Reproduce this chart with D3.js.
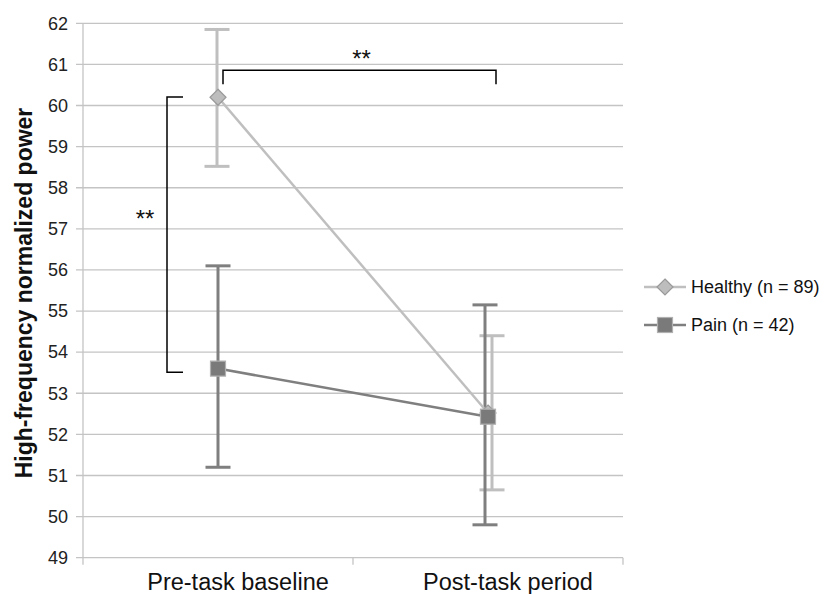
<!DOCTYPE html>
<html>
<head>
<meta charset="utf-8">
<script src="https://cdn.jsdelivr.net/npm/d3@7"></script>
<style>
  body { margin: 0; background: #fff; }
  text { font-family: "Liberation Sans", Arial, sans-serif; }
</style>
</head>
<body>
<svg id="chart"></svg>
<script>
// data
var categories = ["Pre-task baseline", "Post-task period"];
var healthyMean = [60.2, 52.52];
var healthyLow = [58.52, 50.65];
var healthyHigh = [61.85, 54.4];
var painMean = [53.6, 52.43];
var painLow = [51.2, 49.8];
var painHigh = [56.1, 55.15];
var yTicks = [49, 50, 51, 52, 53, 54, 55, 56, 57, 58, 59, 60, 61, 62];
var legendLabels = ["Healthy (n = 89)", "Pain (n = 42)"];

var W = 824, H = 594,
    plotL = 83, plotR = 623, plotT = 23.3, plotB = 557.7;

var svg = d3.select("#chart").attr("width", W).attr("height", H);

var x = d3.scaleBand().domain(categories).range([plotL, plotR]);
var y = d3.scaleLinear().domain([49, 62]).range([plotB, plotT]);
function cx(c) { return x(c) + x.bandwidth() / 2; }

// gridlines
svg.selectAll(".grid").data(yTicks).enter()
    .append("line")
    .attr("class", "grid")
    .attr("x1", plotL - 7).attr("x2", plotR)
    .attr("y1", function(d) { return y(d); })
    .attr("y2", function(d) { return y(d); })
    .attr("stroke", "#c4c4c4")
    .attr("stroke-width", 1.3);

// y axis line
svg.append("line")
    .attr("x1", plotL).attr("x2", plotL)
    .attr("y1", plotT).attr("y2", plotB)
    .attr("stroke", "#c4c4c4").attr("stroke-width", 1.3);

// x tick marks (category boundaries)
var bounds = [plotL, plotL + x.bandwidth(), plotR];
svg.selectAll(".xtick").data(bounds).enter()
    .append("line")
    .attr("x1", function(d) { return d; })
    .attr("x2", function(d) { return d; })
    .attr("y1", plotB).attr("y2", plotB + 7)
    .attr("stroke", "#c4c4c4").attr("stroke-width", 1.3);

// y tick labels
svg.selectAll(".ylab").data(yTicks).enter()
    .append("text")
    .attr("x", 68)
    .attr("y", function(d) { return y(d); })
    .attr("dy", "0.35em")
    .attr("text-anchor", "end")
    .attr("font-size", 18)
    .attr("fill", "#222")
    .text(function(d) { return d; });

// x labels
svg.selectAll(".xlab").data(categories).enter()
    .append("text")
    .attr("x", function(d) { return cx(d) + 20; })
    .attr("y", 590)
    .attr("text-anchor", "middle")
    .attr("font-size", 23.5)
    .attr("fill", "#111")
    .text(function(d) { return d; });

// y title
svg.append("text")
    .attr("transform", "translate(32,293) rotate(-90)")
    .attr("text-anchor", "middle")
    .attr("font-size", 23)
    .attr("font-weight", "bold")
    .attr("fill", "#111")
    .text("High-frequency normalized power");

var series = [
    { name: legendLabels[0], mean: healthyMean, low: healthyLow, high: healthyHigh,
      color: "#bfbfbf", fill: "#bdbdbd", stroke: "#9a9a9a", shape: "diamond", errDx: [-1, 4] },
    { name: legendLabels[1], mean: painMean, low: painLow, high: painHigh,
      color: "#7f7f7f", fill: "#7a7a7a", stroke: "#b0b0b0", shape: "square", errDx: [0, -3] }
];

function drawMarker(g, s, px, py) {
    if (s.shape === "diamond") {
        g.append("path")
            .attr("d", "M" + px + "," + (py - 8) + "L" + (px + 8) + "," + py +
                       "L" + px + "," + (py + 8) + "L" + (px - 8) + "," + py + "Z")
            .attr("fill", s.fill).attr("stroke", s.stroke).attr("stroke-width", 1.2);
    } else {
        g.append("rect")
            .attr("x", px - 7.5).attr("y", py - 7.5)
            .attr("width", 15).attr("height", 15)
            .attr("fill", s.fill).attr("stroke", s.stroke).attr("stroke-width", 1.2);
    }
}

// error bars first, then lines and markers
series.forEach(function(s) {
    var g = svg.append("g");
    categories.forEach(function(c, i) {
        var px = cx(c) + s.errDx[i];
        g.append("line")
            .attr("x1", px).attr("x2", px)
            .attr("y1", y(s.high[i])).attr("y2", y(s.low[i]))
            .attr("stroke", s.color).attr("stroke-width", 3);
        [s.high[i], s.low[i]].forEach(function(v) {
            g.append("line")
                .attr("x1", px - 12.5).attr("x2", px + 12.5)
                .attr("y1", y(v)).attr("y2", y(v))
                .attr("stroke", s.color).attr("stroke-width", 3);
        });
    });
});

series.forEach(function(s) {
    var g = svg.append("g");
    var line = d3.line()
        .x(function(d, i) { return cx(categories[i]); })
        .y(function(d) { return y(d); });
    g.append("path")
        .attr("d", line(s.mean))
        .attr("fill", "none")
        .attr("stroke", s.color)
        .attr("stroke-width", 2.5);
    s.mean.forEach(function(v, i) {
        drawMarker(g, s, cx(categories[i]), y(v));
    });
});

// significance brackets
var br = svg.append("g").attr("fill", "none").attr("stroke", "#000").attr("stroke-width", 1.5);
var pre = categories[0], post = categories[1];
// between groups at baseline
br.append("path")
    .attr("d", "M" + (cx(pre) - 35) + "," + y(60.21) +
               "H" + (cx(pre) - 51) +
               "V" + y(53.51) +
               "H" + (cx(pre) - 35));
// healthy: baseline vs post
br.append("path")
    .attr("d", "M" + (cx(pre) + 5) + "," + y(60.52) +
               "V" + y(60.86) + "H" + (cx(post) + 8) + "V" + y(60.52));

svg.append("text")
    .attr("x", 145).attr("y", 227)
    .attr("text-anchor", "middle")
    .attr("font-family", "Liberation Serif, serif")
    .attr("font-size", 24)
    .attr("fill", "#111")
    .text("**");
svg.append("text")
    .attr("x", (cx(pre) + cx(post)) / 2 + 8.5).attr("y", 67)
    .attr("text-anchor", "middle")
    .attr("font-family", "Liberation Serif, serif")
    .attr("font-size", 24)
    .attr("fill", "#111")
    .text("**");

// legend
var legendY = [287, 325];
series.forEach(function(s, i) {
    var g = svg.append("g");
    g.append("line")
        .attr("x1", 644).attr("x2", 686)
        .attr("y1", legendY[i]).attr("y2", legendY[i])
        .attr("stroke", s.color).attr("stroke-width", 2.5);
    drawMarker(g, s, 665, legendY[i]);
    g.append("text")
        .attr("x", 691).attr("y", legendY[i])
        .attr("dy", "0.35em")
        .attr("font-size", 18)
        .attr("fill", "#111")
        .text(s.name);
});
</script>
</body>
</html>
